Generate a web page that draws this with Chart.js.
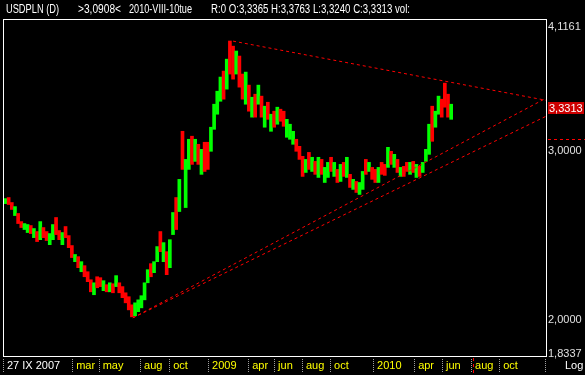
<!DOCTYPE html>
<html>
<head>
<meta charset="utf-8">
<script src="https://cdn.jsdelivr.net/npm/chart.js@4.4.1/dist/chart.umd.min.js"></script>
<style>
  html, body { margin:0; padding:0; background:#000; }
  #caixa { width:585px; height:375px; position:relative; }
</style>
</head>
<body>
<div id="caixa"><canvas id="grafico"></canvas></div>
<script>
// USDPLN, barras semanais (27 IX 2007 -> VII 2010)
var opens = [
  2.653,2.678,2.647,2.577,2.577,2.528,2.492,2.474,2.504,2.444,
  2.468,2.432,2.492,2.468,2.403,2.432,2.553,2.474,2.403,2.498,
  2.444,2.386,2.307,2.324,2.252,2.274,2.241,2.198,2.130,2.214,
  2.208,2.151,2.172,2.146,2.177,2.172,2.182,2.161,2.130,2.110,
  2.069,2.025,2.045,2.064,2.104,2.193,2.285,2.246,2.307,2.468,
  2.307,2.352,2.274,2.462,2.678,2.602,3.142,2.627,2.880,3.104,
  2.936,3.045,2.845,3.059,3.059,3.008,3.172,3.289,3.394,3.631,
  3.493,3.904,3.857,3.623,3.765,3.605,3.369,3.511,3.266,3.435,
  3.369,3.418,3.187,3.369,3.156,3.297,3.210,3.313,3.297,3.112,
  3.097,3.059,3.082,3.030,2.958,2.859,2.986,2.866,2.922,2.825,
  2.936,2.791,2.825,2.950,2.832,2.866,2.798,2.915,2.825,2.832,
  2.744,2.784,2.711,2.744,2.936,2.866,2.880,2.866,2.791,2.915,
  2.901,2.894,2.993,2.894,2.936,2.832,2.887,2.915,2.845,2.922,
  2.825,2.887,2.859,2.936,2.986,3.337,3.187,3.289,3.394,3.528,
  3.435,3.250
];
var highs = [
  2.678,2.685,2.653,2.627,2.584,2.534,2.522,2.516,2.510,2.492,
  2.474,2.534,2.498,2.474,2.462,2.516,2.559,2.480,2.468,2.504,
  2.450,2.392,2.341,2.329,2.301,2.279,2.246,2.203,2.187,2.219,
  2.214,2.198,2.177,2.187,2.182,2.225,2.187,2.167,2.135,2.115,
  2.074,2.084,2.099,2.120,2.187,2.257,2.290,2.301,2.386,2.474,
  2.409,2.357,2.426,2.590,2.685,2.805,3.149,2.943,3.089,3.112,
  3.089,3.052,3.015,3.067,3.067,3.180,3.361,3.468,3.588,3.640,
  3.746,3.913,3.865,3.820,3.774,3.614,3.631,3.519,3.418,3.443,
  3.519,3.427,3.345,3.377,3.281,3.305,3.337,3.321,3.305,3.241,
  3.203,3.149,3.089,3.037,2.965,2.943,2.993,2.958,2.929,2.958,
  2.943,2.887,2.922,2.958,2.922,2.873,2.908,2.922,2.958,2.839,
  2.805,2.791,2.784,2.859,2.943,2.922,2.887,2.873,2.887,2.922,
  2.908,3.030,3.001,2.979,2.943,2.887,2.894,2.922,2.922,2.929,
  2.908,2.894,2.922,3.015,3.203,3.345,3.305,3.427,3.402,3.536,
  3.443,3.361
];
var lows = [
  2.646,2.640,2.609,2.571,2.522,2.498,2.486,2.468,2.462,2.438,
  2.415,2.426,2.438,2.421,2.397,2.426,2.456,2.426,2.397,2.438,
  2.380,2.324,2.301,2.268,2.246,2.219,2.193,2.140,2.125,2.161,
  2.167,2.146,2.140,2.140,2.135,2.167,2.135,2.110,2.084,2.049,
  2.015,2.020,2.040,2.059,2.099,2.187,2.219,2.241,2.301,2.357,
  2.301,2.230,2.268,2.456,2.486,2.596,2.873,2.621,2.873,2.908,
  2.929,2.908,2.839,2.859,2.873,3.001,3.164,3.281,3.385,3.402,
  3.485,3.614,3.570,3.614,3.502,3.402,3.361,3.305,3.258,3.258,
  3.361,3.258,3.180,3.241,3.149,3.180,3.203,3.226,3.187,3.104,
  3.089,3.052,3.001,2.943,2.825,2.852,2.873,2.859,2.839,2.818,
  2.839,2.784,2.818,2.859,2.825,2.784,2.791,2.825,2.818,2.751,
  2.738,2.718,2.705,2.738,2.839,2.859,2.805,2.784,2.784,2.839,
  2.832,2.887,2.908,2.887,2.852,2.825,2.825,2.859,2.839,2.852,
  2.818,2.825,2.852,2.929,2.979,3.074,3.180,3.281,3.258,3.337,
  3.258,3.241
];
var closes = [
  2.672,2.647,2.615,2.621,2.528,2.504,2.516,2.510,2.468,2.486,
  2.421,2.528,2.444,2.426,2.456,2.510,2.462,2.432,2.462,2.444,
  2.386,2.329,2.335,2.274,2.296,2.225,2.198,2.146,2.182,2.167,
  2.172,2.193,2.146,2.182,2.140,2.219,2.140,2.115,2.089,2.054,
  2.020,2.079,2.094,2.115,2.182,2.252,2.225,2.296,2.380,2.363,
  2.403,2.235,2.421,2.584,2.492,2.798,2.880,2.936,3.082,2.915,
  3.082,2.915,3.008,2.866,2.880,3.172,3.353,3.460,3.579,3.410,
  3.737,3.623,3.579,3.811,3.511,3.410,3.623,3.313,3.410,3.266,
  3.511,3.266,3.337,3.249,3.273,3.187,3.329,3.233,3.195,3.233,
  3.195,3.142,3.008,2.950,2.832,2.936,2.880,2.950,2.845,2.950,
  2.845,2.880,2.915,2.866,2.915,2.791,2.901,2.832,2.950,2.758,
  2.798,2.725,2.778,2.852,2.845,2.915,2.811,2.791,2.880,2.845,
  2.839,3.022,2.915,2.972,2.859,2.880,2.832,2.866,2.915,2.859,
  2.901,2.832,2.915,3.008,3.195,3.082,3.297,3.418,3.266,3.345,
  3.266,3.3313
];

// eixo x em semanas desde 27 IX 2007
var xTickPos = [-0.47, 21.4, 29.8, 42.9, 52.1, 64.4, 77.1, 85.3, 94.1, 103.0, 116.6, 129.6, 138.4, 147.6, 156.5];
var xTickLabels = ['27 IX 2007','mar','may','aug','oct','2009','apr','jun','aug','oct','2010','apr','jun','aug','oct'];
var yTicks = [1.8337, 2, 3, 4.1161];

// linhas de tendencia [semana, preco]
var lineTop  = [[72.0, 3.912], [171.0, 3.393]];
var lineLow1 = [[40.3, 2.010], [171.0, 3.265]];
var lineLow2 = [[40.3, 2.010], [171.0, 3.410]];

var cursorX = 147.8;
var cursorY = 3.0908;
var lastClose = closes[closes.length - 1];

// texto, x inicial, largura
var cabecalho = [
  ['USDPLN (D)', 6, 53],
  ['>3,0908<', 78, 43],
  ['2010-VIII-10tue', 129, 63],
  ['R:0 O:3,3365 H:3,3763 L:3,3240 C:3,3313 vol:', 211, 199]
];

var fonte = "'Liberation Sans', Arial, sans-serif";

function virgula(v){
  return v.toFixed(4).replace('.', ',');
}
function linha(pts){
  return pts.map(function(p){ return {x: p[0], y: p[1]}; });
}

var barras = highs.map(function(h, i){ return {x: i, y: [lows[i], h]}; });
var cores = opens.map(function(o, i){ return closes[i] >= o ? '#00ff00' : '#ff0000'; });

var moldura = {
  id: 'moldura',
  afterDraw: function(chart){
    var ctx = chart.ctx, a = chart.chartArea;
    var sx = chart.scales.x, sy = chart.scales.y;
    ctx.save();

    // moldura branca
    ctx.strokeStyle = '#ffffff';
    ctx.lineWidth = 1;
    ctx.strokeRect(a.left - 0.5, a.top - 0.5, a.right - a.left + 1, a.bottom - a.top + 1);

    // cabecalho (estreitado para caber como no original)
    ctx.font = '12px ' + fonte;
    ctx.fillStyle = '#ffffff';
    ctx.textBaseline = 'top';
    ctx.textAlign = 'left';
    cabecalho.forEach(function(c){
      var w = ctx.measureText(c[0]).width;
      ctx.save();
      ctx.translate(c[1], 4);
      ctx.scale(c[2] / w, 1);
      ctx.fillText(c[0], 0, 0);
      ctx.restore();
    });

    // tracinhos do eixo x
    ctx.strokeStyle = '#a0a0a0';
    ctx.setLineDash([1, 1]);
    xTickPos.concat([sx.max]).forEach(function(v){
      var px = Math.round(sx.getPixelForValue(v)) - 0.5;
      ctx.beginPath(); ctx.moveTo(px, a.bottom + 3); ctx.lineTo(px, a.bottom + 17); ctx.stroke();
    });

    // cursor
    ctx.strokeStyle = '#ff0000';
    ctx.setLineDash([3, 3]);
    var cy = Math.round(sy.getPixelForValue(cursorY)) + 0.5;
    ctx.beginPath(); ctx.moveTo(a.right + 2, cy); ctx.lineTo(chart.width, cy); ctx.stroke();
    var cx = Math.round(sx.getPixelForValue(cursorX)) + 0.5;
    ctx.beginPath(); ctx.moveTo(cx, a.bottom + 2); ctx.lineTo(cx, chart.height); ctx.stroke();
    ctx.setLineDash([]);

    // rotulos das pontas do eixo y
    ctx.font = '11px ' + fonte;
    ctx.fillStyle = '#e0e0e0';
    ctx.textBaseline = 'top';
    ctx.fillText(virgula(yTicks[3]), a.right + 2, a.top + 1);
    ctx.textBaseline = 'bottom';
    ctx.fillText(virgula(yTicks[0]), a.right + 2, a.bottom + 3);

    // ultimo fechamento
    var ly = Math.round(sy.getPixelForValue(lastClose));
    ctx.fillStyle = '#cc0000';
    ctx.fillRect(a.right + 2, ly - 6, chart.width - a.right - 3, 12);
    ctx.fillStyle = '#ffffff';
    ctx.textBaseline = 'middle';
    ctx.fillText(virgula(lastClose), a.right + 3, ly + 0.5);

    // Log
    ctx.fillText('Log', 565, a.bottom + 10);
    ctx.restore();
  }
};

var grafico = new Chart(document.getElementById('grafico'), {
  type: 'bar',
  data: {
    datasets: [
      { type: 'bar', data: barras, backgroundColor: cores, borderWidth: 0, barThickness: 3, order: 2 },
      { type: 'line', data: linha(lineTop), borderColor: '#ff0000', borderWidth: 1, borderDash: [3, 3], pointRadius: 0, fill: false, order: 1 },
      { type: 'line', data: linha(lineLow1), borderColor: '#ff0000', borderWidth: 1, borderDash: [3, 3], pointRadius: 0, fill: false, order: 1 },
      { type: 'line', data: linha(lineLow2), borderColor: '#ff0000', borderWidth: 1, borderDash: [3, 3], pointRadius: 0, fill: false, order: 1 }
    ]
  },
  options: {
    responsive: true,
    maintainAspectRatio: false,
    animation: false,
    events: [],
    layout: { padding: { top: 20, left: 4, right: 0, bottom: 0 } },
    plugins: { legend: { display: false }, tooltip: { enabled: false }, title: { display: false } },
    scales: {
      x: {
        type: 'linear', min: -0.47, max: 171.0, offset: false,
        grid: { display: false, drawTicks: false }, border: { display: false },
        afterBuildTicks: function(s){ s.ticks = xTickPos.map(function(v){ return {value: v}; }); },
        afterFit: function(s){ s.height = 19; },
        ticks: {
          autoSkip: false, maxRotation: 0, minRotation: 0, align: 'start', labelOffset: 3, padding: 3,
          color: function(c){ return c.index === 0 ? '#ffffff' : '#ffff00'; },
          font: { family: fonte, size: 11 },
          callback: function(v, i){ return xTickLabels[i]; }
        }
      },
      y: {
        type: 'logarithmic', position: 'right', min: yTicks[0], max: yTicks[3],
        grid: { display: false, drawTicks: false }, border: { display: false },
        afterBuildTicks: function(s){ s.ticks = yTicks.map(function(v){ return {value: v}; }); },
        afterFit: function(s){ s.width = 39; },
        ticks: {
          padding: 2, color: '#e0e0e0',
          font: { family: fonte, size: 11 },
          callback: function(v){ return (v === yTicks[0] || v === yTicks[3]) ? '' : virgula(v); }
        }
      }
    }
  },
  plugins: [moldura]
});
</script>
</body>
</html>
